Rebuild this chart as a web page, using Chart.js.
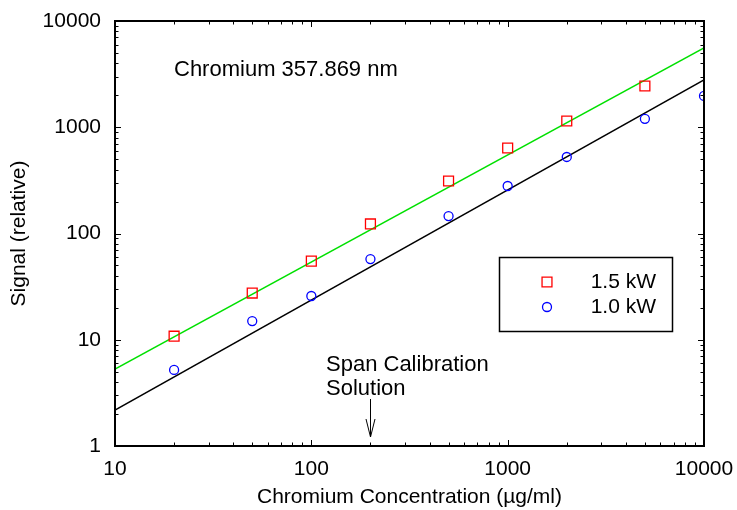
<!DOCTYPE html>
<html><head><meta charset="utf-8">
<script src="https://cdn.jsdelivr.net/npm/chart.js@4/dist/chart.umd.min.js"></script>
<style>html,body{margin:0;padding:0;background:#fff}#wrap{width:737px;height:510px}</style>
</head><body><div id="wrap"><canvas id="c" width="737" height="510"></canvas></div>
<script>
// ---- data ----
const conc15 = [20, 50, 100, 200, 500, 1000, 2000, 5000];
const signal15 = [10.8, 27.5, 55, 123, 312, 638, 1145, 2445];
const conc10 = [20, 50, 100, 200, 500, 1000, 2000, 5000, 10000];
const signal10 = [5.2, 15.0, 25.8, 57.5, 146, 280, 525, 1200, 1970];
const fitX = [10, 10000];
const fit15 = [5.3, 5570];
const fit10 = [2.18, 2785];
const xTickValues = [10, 100, 1000, 10000];
const yTickValues = [1, 10, 100, 1000, 10000];
const seriesLabels = ['1.5 kW', '1.0 kW'];
const titleText = 'Chromium 357.869 nm';
const spanText = ['Span Calibration', 'Solution'];
const spanX = 200;

const FONT = '"Liberation Sans", Arial, Helvetica, sans-serif';
const pts = (xs, ys) => xs.map((x, i) => ({x: x, y: ys[i]}));

const overlay = {
  id: 'overlay',
  afterDatasetsDraw(chart) {
    const ctx = chart.ctx;
    const a = chart.chartArea;
    const xs = chart.scales.x, ys = chart.scales.y;
    ctx.save();
    // frame
    ctx.strokeStyle = '#000';
    ctx.lineWidth = 2;
    ctx.strokeRect(a.left, a.top, a.right - a.left, a.bottom - a.top);
    // ticks (inward, mirrored)
    ctx.lineWidth = 1;
    ctx.beginPath();
    const decadeTicks = (min, max, cb) => {
      for (let d = min; d < max; d *= 10) {
        for (let k = 1; k <= 9; k++) cb(k * d, k === 1);
      }
      cb(max, true);
    };
    decadeTicks(xs.min, xs.max, (v, major) => {
      const px = Math.round(xs.getPixelForValue(v)) + 0.5;
      const L = major ? 6 : 3.5;
      ctx.moveTo(px, a.bottom); ctx.lineTo(px, a.bottom - L);
      ctx.moveTo(px, a.top); ctx.lineTo(px, a.top + L);
    });
    decadeTicks(ys.min, ys.max, (v, major) => {
      const py = Math.round(ys.getPixelForValue(v)) + 0.5;
      const L = major ? 6 : 3.5;
      ctx.moveTo(a.left, py); ctx.lineTo(a.left + L, py);
      ctx.moveTo(a.right, py); ctx.lineTo(a.right - L, py);
    });
    ctx.stroke();

    // annotation texts
    ctx.fillStyle = '#000';
    ctx.font = '22px ' + FONT;
    ctx.textBaseline = 'middle';
    ctx.textAlign = 'left';
    ctx.fillText(titleText, 174, 70);
    ctx.fillText(spanText[0], 326, 365);
    ctx.fillText(spanText[1], 326, 389);
    // arrow
    const ax = Math.round(xs.getPixelForValue(spanX)) + 0.5;
    ctx.beginPath();
    ctx.moveTo(ax, 399); ctx.lineTo(ax, 437);
    ctx.moveTo(ax - 4.5, 419); ctx.lineTo(ax, 437); ctx.lineTo(ax + 4.5, 419);
    ctx.stroke();

    // legend
    ctx.lineWidth = 1.5;
    ctx.strokeRect(499.5, 257.5, 173, 74);
    ctx.font = '21px ' + FONT;
    const rows = [282, 307];
    [0, 1].forEach(i => {
      const ds = chart.data.datasets[i];
      ctx.lineWidth = ds.borderWidth;
      ctx.strokeStyle = ds.borderColor;
      ctx.fillStyle = 'rgba(0,0,0,0)';
      Chart.helpers.drawPoint(ctx, {pointStyle: ds.pointStyle, radius: ds.pointRadius, borderWidth: ds.borderWidth}, 547, rows[i]);
      ctx.fillStyle = '#000';
      ctx.textAlign = 'right';
      ctx.fillText(ds.label, 656, rows[i]);
    });
    ctx.restore();
  }
};

new Chart(document.getElementById('c'), {
  type: 'scatter',
  data: {
    datasets: [
      {label: seriesLabels[0], data: pts(conc15, signal15), pointStyle: 'rect', pointRadius: 7, pointHoverRadius: 7,
       borderColor: '#ff0000', backgroundColor: 'rgba(0,0,0,0)', borderWidth: 1.3, showLine: false, order: 0},
      {label: seriesLabels[1], data: pts(conc10, signal10), pointStyle: 'circle', pointRadius: 4.5, pointHoverRadius: 4.5,
       borderColor: '#0000ff', backgroundColor: 'rgba(0,0,0,0)', borderWidth: 1.3, showLine: false, order: 0},
      {label: 'fit 1.5', data: pts(fitX, fit15), showLine: true, pointRadius: 0, borderColor: '#00e000', borderWidth: 1.5, order: 1},
      {label: 'fit 1.0', data: pts(fitX, fit10), showLine: true, pointRadius: 0, borderColor: '#000000', borderWidth: 1.5, order: 1}
    ]
  },
  plugins: [overlay],
  options: {
    responsive: false,
    animation: false,
    devicePixelRatio: 1,
    layout: {padding: {left: 0, top: 21, right: 33, bottom: 0}},
    plugins: {legend: {display: false}, tooltip: {enabled: false}},
    scales: {
      x: {
        type: 'logarithmic', min: 10, max: 10000,
        afterBuildTicks: s => { s.ticks = xTickValues.map(v => ({value: v})); },
        afterFit: s => { s.height = 64; s.paddingLeft = 0; s.paddingRight = 0; },
        grid: {display: false, drawTicks: false},
        border: {display: false},
        ticks: {autoSkip: false, maxRotation: 0, padding: 11, color: '#000', font: {family: FONT, size: 21},
                callback: v => String(v)},
        title: {display: true, text: 'Chromium Concentration (\u00b5g/ml)', color: '#000',
                font: {family: FONT, size: 21}, padding: {top: 0, bottom: 0}}
      },
      y: {
        type: 'logarithmic', min: 1, max: 10000,
        afterBuildTicks: s => { s.ticks = yTickValues.map(v => ({value: v})); },
        afterFit: s => { s.width = 115; s.paddingTop = 0; s.paddingBottom = 0; },
        grid: {display: false, drawTicks: false},
        border: {display: false},
        ticks: {autoSkip: false, padding: 14, color: '#000', font: {family: FONT, size: 21},
                callback: v => String(v)},
        title: {display: true, text: 'Signal (relative)', color: '#000',
                font: {family: FONT, size: 21}, padding: {top: 7, bottom: 0}}
      }
    }
  }
});
</script></body></html>
